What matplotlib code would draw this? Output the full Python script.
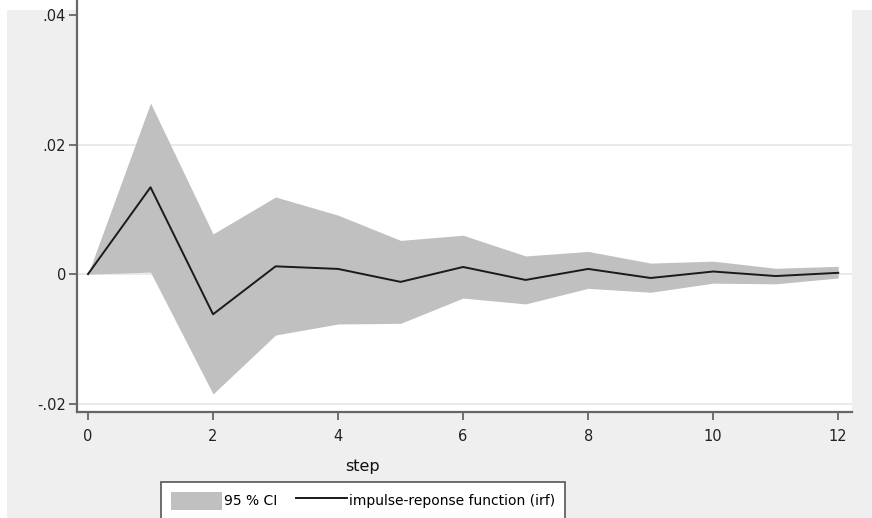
import matplotlib.pyplot as plt
from matplotlib.patches import Rectangle

# impulse response
steps = [0, 1, 2, 3, 4, 5, 6, 7, 8, 9, 10, 11, 12]
irf = [0, 0.0134, -0.0062, 0.0012, 0.0008, -0.0012, 0.0011, -0.0009, 0.0008, -0.0006, 0.0004, -0.0003, 0.0002]
ci_upper = [0, 0.0264, 0.0062, 0.0119, 0.0091, 0.0052, 0.0060, 0.0028, 0.0035, 0.0017, 0.0020, 0.0009, 0.0012]
ci_lower = [0, 0.0003, -0.0185, -0.0094, -0.0077, -0.0076, -0.0037, -0.0046, -0.0022, -0.0028, -0.0014, -0.0015, -0.0006]
yticks = [-0.02, 0, 0.02, 0.04]
ytick_labels = ['-.02', '0', '.02', '.04']
grid_at = [-0.02, 0, 0.02]
xticks = [0, 2, 4, 6, 8, 10, 12]

W, H = 872, 518
fig = plt.figure(figsize=(W / 100, H / 100), dpi=100)
fig.patch.set_facecolor('white')

# stata style grey panel
fig.patches.append(Rectangle((7 / W, 0), 1 - 7 / W, 1 - 10 / H, transform=fig.transFigure,
                             facecolor='#efefef', edgecolor='none', zorder=-10))

ax = fig.add_axes([77 / W, (H - 412) / H, (852 - 77) / W, 412 / H])
ax.set_facecolor('white')

for g in grid_at:
    ax.axhline(g, color='#e8e8e8', linewidth=1.3, zorder=0)

ci = ax.fill_between(steps, ci_lower, ci_upper, color='#c0c0c0', linewidth=0, label='95 % CI', zorder=1)
line, = ax.plot(steps, irf, color='#1a1a1a', linewidth=1.4, label='impulse-reponse function (irf)', zorder=2)

ax.set_xlim(-0.176, 12.22)
ax.set_ylim(-0.02128, 0.0423)
ax.set_yticks(yticks)
ax.set_yticklabels(ytick_labels)
ax.set_xticks(xticks)

for s in ['top', 'right']:
    ax.spines[s].set_visible(False)
for s in ['left', 'bottom']:
    ax.spines[s].set_color('#666666')
    ax.spines[s].set_linewidth(1.6)

ax.tick_params(axis='both', colors='#666666', length=6, width=1.3)
for lab in ax.get_xticklabels() + ax.get_yticklabels():
    lab.set_fontsize(10.5)
    lab.set_color('#222222')
ax.tick_params(axis='y', pad=2)
ax.tick_params(axis='x', pad=6)

fig.text(363 / W, 1 - 467 / H, 'step', ha='center', va='center', fontsize=11.5, color='#111111')

# stata legend box runs off the bottom of the picture
leg = fig.legend(handles=[ci, line], loc='upper center', bbox_to_anchor=(363 / W, 1 - 482 / H),
                 ncol=2, frameon=True, fancybox=False, edgecolor='#555555',
                 prop=dict(size=10),
                 handlelength=3.7, handleheight=1.6, handletextpad=0.15, columnspacing=1.3,
                 borderpad=0.7, borderaxespad=0)
leg.get_frame().set_linewidth(1.2)
leg.get_frame().set_facecolor('white')
leg.get_frame().set_alpha(1)

fig.savefig('out.png', dpi=100)
